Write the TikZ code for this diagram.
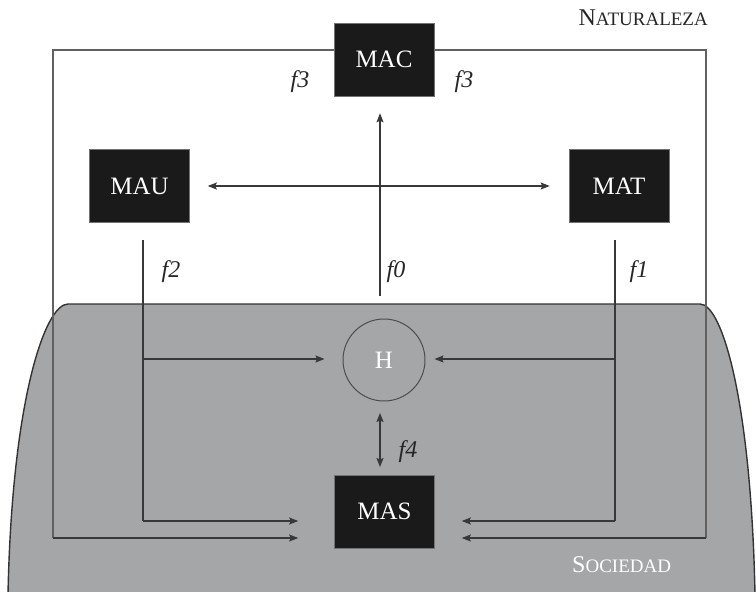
\documentclass[tikz,border=0pt]{standalone}
\usepackage{fontspec}
\setmainfont{Liberation Serif}
\usetikzlibrary{arrows.meta,calc}
\definecolor{society}{HTML}{A5A6A8}
\definecolor{boxfill}{HTML}{1B1A1A}
\definecolor{linecol}{HTML}{383838}
% capital followed by reduced capitals, in the manner of small caps
\newcommand{\capword}[2]{{\fontsize{24}{28}\selectfont #1}{\fontsize{19}{28}\selectfont #2}}
\begin{document}
\begin{tikzpicture}[x=1pt,y=-1pt,
  conn/.style={draw=linecol,line width=1.1pt},
  tip/.style={-{Stealth[length=9pt,width=7pt,inset=1.5pt]}},
  bothtips/.style={{Stealth[length=9pt,width=7pt,inset=1.5pt]}-{Stealth[length=9pt,width=7pt,inset=1.5pt]}},
  frameline/.style={draw=black!62,line width=1.2pt},
  mbox/.style={fill=boxfill,draw=black!55,line width=0.6pt,minimum width=100pt,
    minimum height=73pt,inner sep=0pt,text=white,font=\fontsize{25}{28}\selectfont},
  flabel/.style={font=\fontsize{24}{26}\selectfont\itshape,text=black!85}]
\useasboundingbox (0,0) rectangle (756,592);

% society region
\fill[society] (8,594) .. controls (12,400) and (45,304) .. (68,304) -- (700,304)
  .. controls (722,304) and (751,400) .. (755,594) -- cycle;
\draw[draw=black!80,line width=1.4pt] (8,594) .. controls (12,400) and (45,304) .. (68,304) -- (700,304)
  .. controls (722,304) and (751,400) .. (755,594);

% nature frame
\coordinate (fBL) at (53,538);
\coordinate (fTL) at (53,50);
\coordinate (fTR) at (706,50);
\coordinate (fBR) at (706,538);
\draw[frameline] (fBL) -- (fTL) -- (fTR) -- (fBR);

% boxes
\node[mbox] (MAC) at (384,59.5) {MAC};
\node[mbox] (MAU) at (139.5,186) {MAU};
\node[mbox] (MAT) at (619,186) {MAT};
\node[mbox] (MAS) at (384.5,511.5) {MAS};
\node[circle,draw=black!70,line width=1pt,minimum size=82pt,inner sep=0pt,
  text=white,font=\fontsize{25}{28}\selectfont] (H) at (384,360) {H};

% branch points
\coordinate (uTop) at (143,240);
\coordinate (uH) at (143,359);
\coordinate (uBot) at (143,521);
\coordinate (tTop) at (615,240);
\coordinate (tH) at (615,359);
\coordinate (tBot) at (615,521);
\coordinate (f0s) at (380,296);
\coordinate (f4s) at (380,413);
\coordinate (f4e) at (380,467);

% connectors
\draw[conn,bothtips,shorten <=18pt,shorten >=19pt] (MAU.east) -- (MAT.west);
\draw[conn,tip,shorten >=17pt] (f0s) -- (f0s |- MAC.south);
\draw[conn] (uTop) -- (uBot);
\draw[conn] (tTop) -- (tBot);
\draw[conn,tip,shorten >=18pt] (uH) -- (H.west |- uH);
\draw[conn,tip,shorten >=9pt] (tH) -- (H.east |- tH);
\draw[conn,tip,shorten >=36pt] (uBot) -- (MAS.west |- uBot);
\draw[conn,tip,shorten >=27pt] (tBot) -- (MAS.east |- tBot);
\draw[conn,tip,shorten >=36pt] (fBL) -- (MAS.west |- fBL);
\draw[conn,tip,shorten >=27pt] (fBR) -- (MAS.east |- fBR);
\draw[conn,bothtips] (f4s) -- (f4e);

% labels
\node[flabel] (l3a) at (300,82) {f3};
\node[flabel] (l3b) at (464,82) {f3};
\node[flabel] (l2) at (171,272) {f2};
\node[flabel] (l0) at (396,272) {f0};
\node[flabel] (l1) at (639,272) {f1};
\node[flabel] (l4) at (408,452) {f4};
\node[anchor=base east,inner sep=0pt,text=black!85] (nat) at (708,25) {\capword{N}{ATURALEZA}};
\node[anchor=base west,inner sep=0pt,text=white] (soc) at (572,572) {\capword{S}{OCIEDAD}};
\end{tikzpicture}
\end{document}
